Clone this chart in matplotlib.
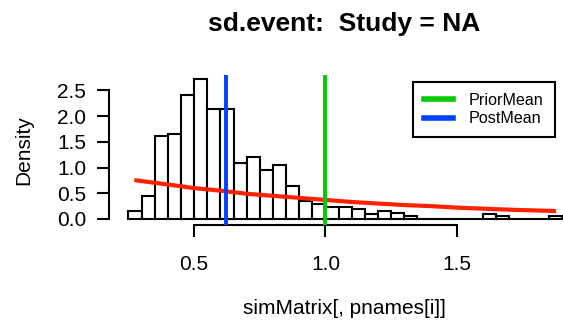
import numpy as np
import matplotlib
matplotlib.use("Agg")
import matplotlib.pyplot as plt

plt.rcParams['font.family'] = ['Liberation Sans', 'DejaVu Sans']

# histogram of simMatrix[, pnames[i]] (density scale, breaks every 0.05)
bin_left = [0.25, 0.30, 0.35, 0.40, 0.45, 0.50, 0.55, 0.60, 0.65, 0.70, 0.75,
            0.80, 0.85, 0.90, 0.95, 1.00, 1.05, 1.10, 1.15, 1.20, 1.25, 1.30,
            1.35, 1.40, 1.45, 1.50, 1.55, 1.60, 1.65, 1.70, 1.75, 1.80, 1.85]
density = [0.15, 0.45, 1.61, 1.65, 2.41, 2.73, 2.13, 2.13, 1.08, 1.20, 0.96,
           1.05, 0.64, 0.35, 0.29, 0.23, 0.23, 0.19, 0.09, 0.16, 0.12, 0.05,
           0.0, 0.0, 0.0, 0.0, 0.0, 0.10, 0.06, 0.0, 0.0, 0.0, 0.06]
bin_width = 0.05

# prior density curve (red)
prior_x = [0.28, 0.40, 0.50, 0.60, 0.70, 0.80, 0.90, 1.00, 1.10, 1.20,
           1.30, 1.40, 1.50, 1.60, 1.70, 1.80, 1.87]
prior_y = [0.75, 0.67, 0.60, 0.55, 0.49, 0.45, 0.41, 0.37, 0.33, 0.30,
           0.27, 0.25, 0.22, 0.20, 0.18, 0.165, 0.155]

prior_mean = 1.0
post_mean = 0.622

W, H = 563, 331
fig = plt.figure(figsize=(W / 100, H / 100), dpi=100)
left, right, top, bottom = 109.3, 579.0, 75.0, 224.5
ax = fig.add_axes([left / W, 1 - bottom / H, (right - left) / W, (bottom - top) / H])
ax.patch.set_alpha(0)

ax.bar(bin_left, density, width=bin_width, align='edge', color='white',
       edgecolor='black', linewidth=1.5, zorder=1)
ax.plot(prior_x, prior_y, color='#FF2200', linewidth=3.0, zorder=2)
ax.axvline(prior_mean, color='#00CC00', linewidth=2.8, zorder=3, label='PriorMean')
ax.axvline(post_mean, color='#0040FF', linewidth=2.8, zorder=3, label='PostMean')

ax.set_xlim(0.177, 1.965)
ax.set_ylim(-0.108, 2.80)

for s in ['top', 'right']:
    ax.spines[s].set_visible(False)
ax.spines['bottom'].set_bounds(0.5, 1.5)
ax.spines['left'].set_bounds(0.0, 2.5)
ax.spines['bottom'].set_linewidth(1.5)
ax.spines['left'].set_linewidth(1.5)

ax.set_xticks([0.5, 1.0, 1.5])
ax.set_xticklabels(['0.5', '1.0', '1.5'])
ax.set_yticks([0.0, 0.5, 1.0, 1.5, 2.0, 2.5])
ax.set_yticklabels(['0.0', '0.5', '1.0', '1.5', '2.0', '2.5'])
ax.tick_params(axis='both', length=8.6, width=1.5, labelsize=15, color='black')
ax.tick_params(axis='x', pad=13)
ax.tick_params(axis='y', pad=8)

leg = ax.legend(loc='upper right', bbox_to_anchor=(555 / W, 1 - 81.7 / H),
                bbox_transform=fig.transFigure, fontsize=11.6, fancybox=False,
                edgecolor='black', framealpha=1, handlelength=1.8,
                handletextpad=1.0, borderpad=0.7, labelspacing=0.2,
                borderaxespad=0)
leg.get_frame().set_linewidth(1.5)
for line in leg.get_lines():
    line.set_linewidth(4)

fig.text(344 / W, 1 - 24 / H, 'sd.event:  Study = NA', ha='center', va='center',
         fontsize=19, fontweight='bold')
fig.text(344 / W, 1 - 308 / H, 'simMatrix[, pnames[i]]', ha='center', va='center',
         fontsize=15)
fig.text(24 / W, 1 - 150 / H, 'Density', ha='center', va='center',
         rotation=90, fontsize=15)

fig.savefig('out.png', dpi=100)
